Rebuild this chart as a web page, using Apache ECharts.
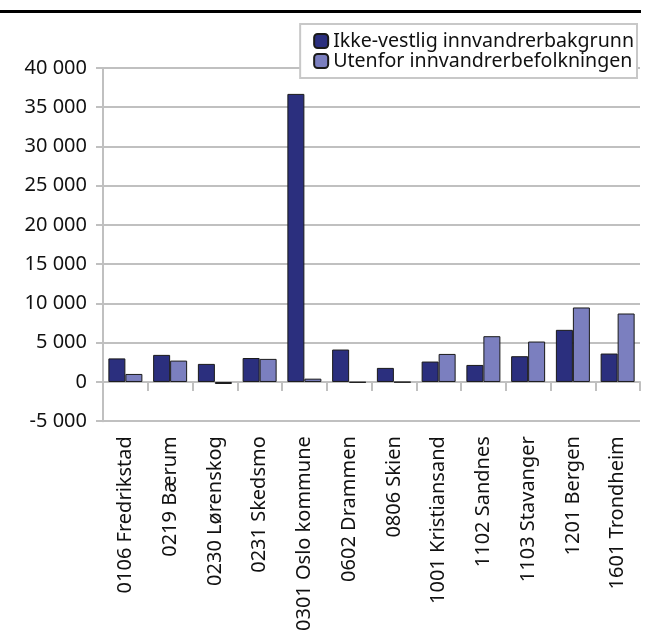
<!DOCTYPE html>
<html>
<head>
<meta charset="utf-8">
<script src="https://cdn.jsdelivr.net/npm/echarts@6/dist/echarts.min.js"></script>
<style>
  html, body { margin: 0; padding: 0; background: #fff; }
  #chart { width: 651px; height: 634px; }
</style>
</head>
<body>
<div id="chart"></div>
<script>
const kommuner = [
  '0106 Fredrikstad', '0219 Bærum', '0230 Lørenskog', '0231 Skedsmo',
  '0301 Oslo kommune', '0602 Drammen', '0806 Skien', '1001 Kristiansand',
  '1102 Sandnes', '1103 Stavanger', '1201 Bergen', '1601 Trondheim'
]
const ikkeVestlig = [3000, 3450, 2300, 3050, 36700, 4130, 1790, 2600, 2170, 3280, 6640, 3620]
const utenfor = [1020, 2720, -260, 2940, 420, -80, -50, 3570, 5830, 5150, 9490, 8720]
const serieNavn = ['Ikke-vestlig innvandrerbakgrunn', 'Utenfor innvandrerbefolkningen']

const fmt = v => String(v).replace(/\B(?=(\d{3})+(?!\d))/g, ' ')
const font = '"Noto Sans", "Open Sans", sans-serif'

const chart = echarts.init(document.getElementById('chart'))
chart.setOption({
  animation: false,
  textStyle: { fontFamily: font },
  grid: { left: 103, right: 11, top: 68, bottom: 211, containLabel: false },
  graphic: [{
    type: 'rect',
    shape: { x: 0, y: 10, width: 641, height: 3 },
    style: { fill: '#000' }
  }],
  legend: {
    orient: 'vertical',
    right: 14,
    top: 24,
    itemWidth: 14,
    itemHeight: 14,
    itemGap: 0,
    padding: [7, 3, 7, 13],
    borderColor: '#c8c8c8',
    borderWidth: 2,
    borderRadius: 0,
    backgroundColor: '#fff',
    textStyle: { fontSize: 19.6, lineHeight: 20, color: '#111', fontFamily: font, padding: [0, 0, 0, 0] },
    data: serieNavn
  },
  xAxis: {
    type: 'category',
    data: kommuner,
    axisLine: { onZero: true, lineStyle: { color: '#c0c0c0', width: 2 } },
    axisTick: { show: true, length: 9, lineStyle: { color: '#c0c0c0', width: 2 } },
    axisLabel: { rotate: 90, margin: 15, fontSize: 20, color: '#111', fontFamily: font, interval: 0 },
    splitLine: { show: false }
  },
  yAxis: {
    type: 'value',
    min: -5000,
    max: 40000,
    interval: 5000,
    axisLine: { show: true, lineStyle: { color: '#c0c0c0', width: 2 } },
    axisTick: { show: true, length: 7, lineStyle: { color: '#c0c0c0', width: 2 } },
    axisLabel: { fontSize: 20, color: '#111', margin: 16, fontFamily: font, formatter: fmt },
    splitLine: { show: true, lineStyle: { color: '#c0c0c0', width: 2 } }
  },
  series: [
    {
      name: serieNavn[0],
      type: 'bar',
      data: ikkeVestlig,
      barWidth: 17,
      barGap: '0%',
      itemStyle: { color: '#2b2f7e', borderColor: '#1a1a1a', borderWidth: 1 }
    },
    {
      name: serieNavn[1],
      type: 'bar',
      data: utenfor,
      barWidth: 17,
      barGap: '0%',
      itemStyle: { color: '#7b7fbf', borderColor: '#1a1a1a', borderWidth: 1 }
    }
  ]
})
</script>
</body>
</html>
